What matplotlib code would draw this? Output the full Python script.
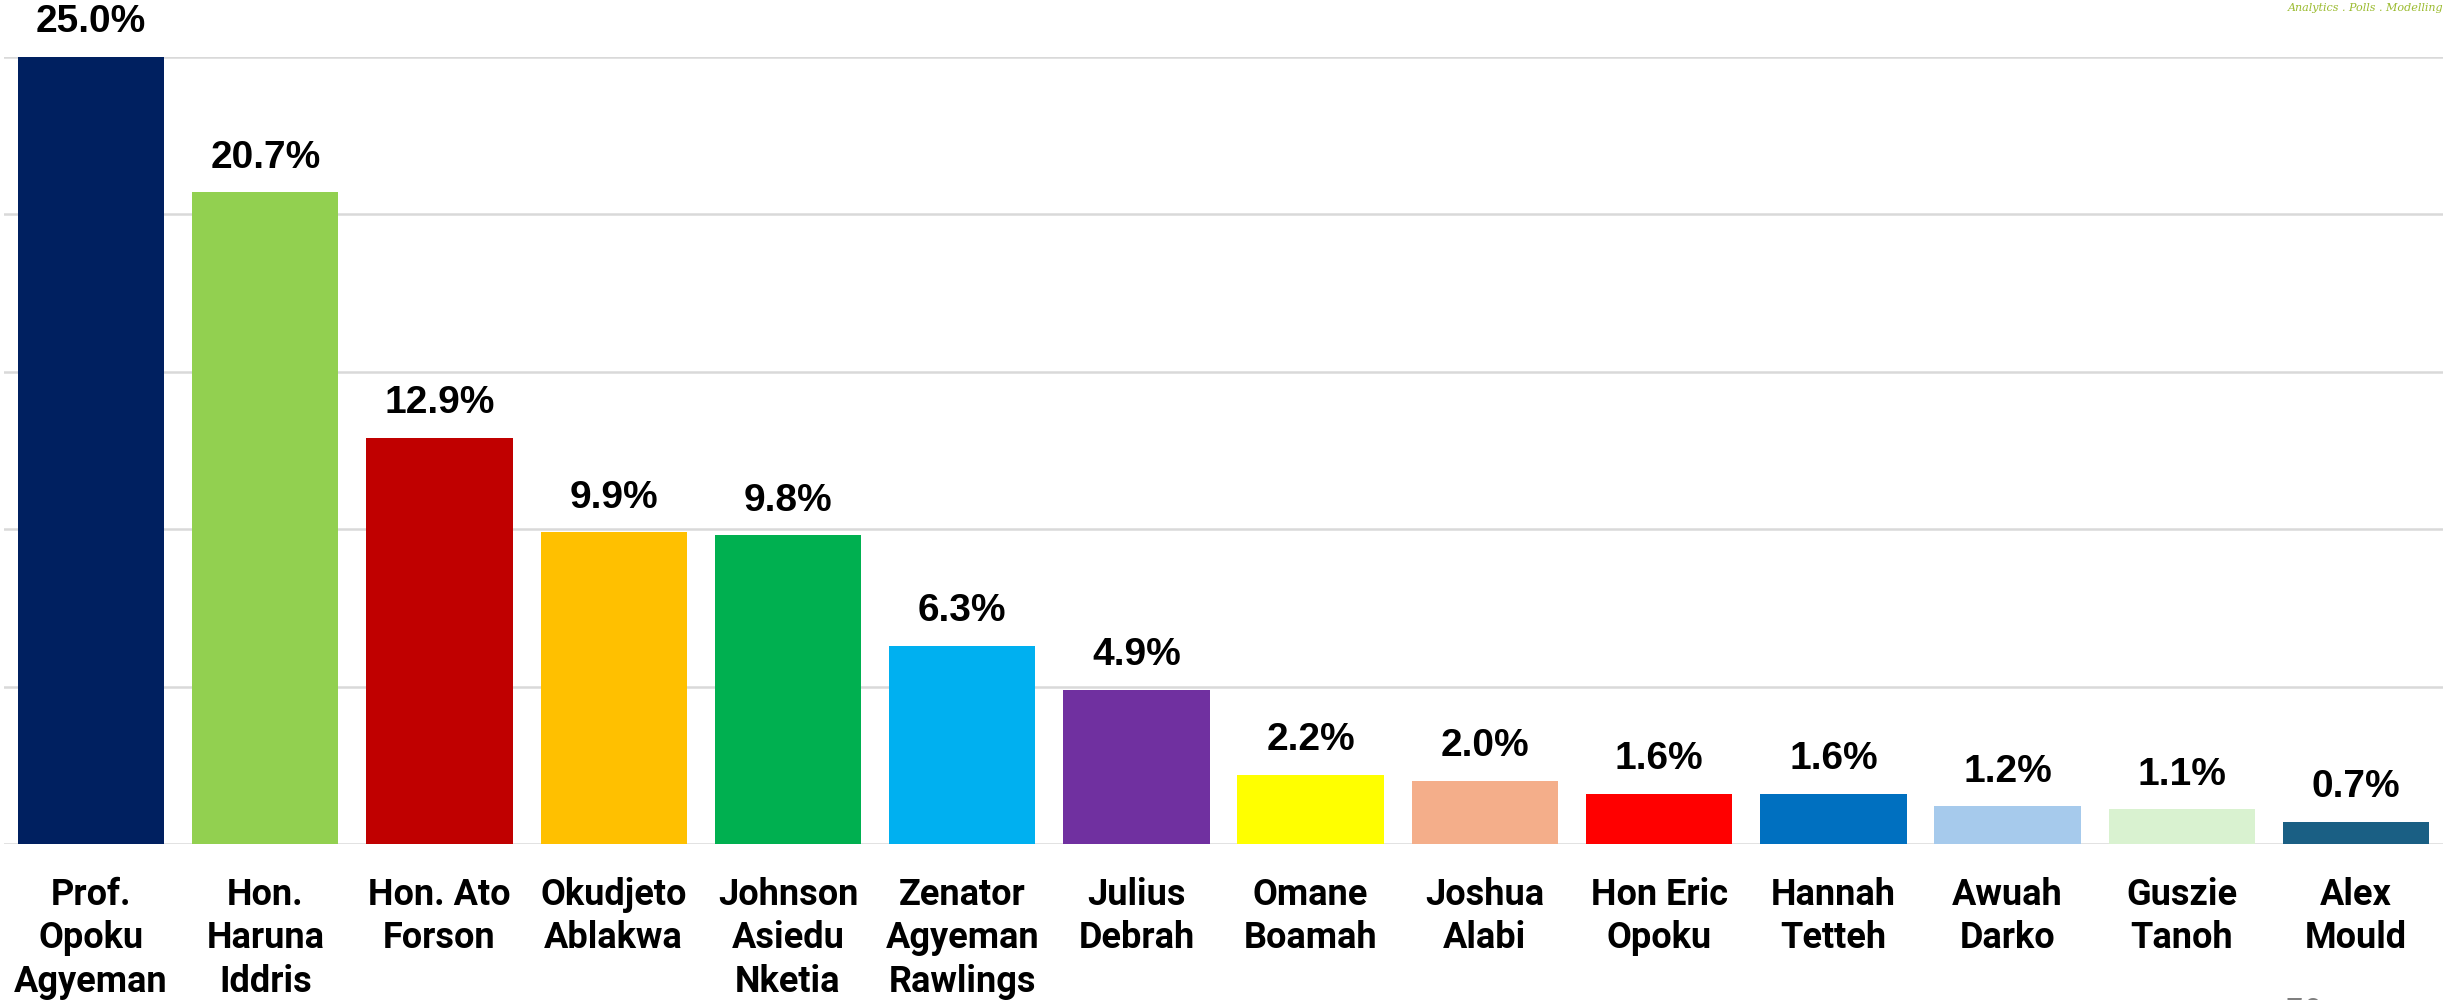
import matplotlib
matplotlib.use("Agg")
import matplotlib.pyplot as plt

# candidate names and their share of support (%)
candidates = [
    "Prof.\nOpoku\nAgyeman", "Hon.\nHaruna\nIddris", "Hon. Ato\nForson",
    "Okudjeto\nAblakwa", "Johnson\nAsiedu\nNketia", "Zenator\nAgyeman\nRawlings",
    "Julius\nDebrah", "Omane\nBoamah", "Joshua\nAlabi", "Hon Eric\nOpoku",
    "Hannah\nTetteh", "Awuah\nDarko", "Guszie\nTanoh", "Alex\nMould",
]
shares = [25.0, 20.7, 12.9, 9.9, 9.8, 6.3, 4.9, 2.2, 2.0, 1.6, 1.6, 1.2, 1.1, 0.7]
bar_colors = [
    "#002060", "#92D050", "#C00000", "#FFC000", "#00B050", "#00B0F0", "#7030A0",
    "#FFFF00", "#F4AE8A", "#FF0000", "#0070C0", "#A6CAEC", "#D9F2D0", "#1A5F84",
]

fig = plt.figure(figsize=(24.51, 10), dpi=100)
ax = fig.add_axes([0.0016, 0.156, 0.9952, 0.787])

x = range(len(candidates))
ax.bar(x, shares, width=0.84, color=bar_colors, zorder=3)

for xi, v in zip(x, shares):
    ax.annotate(f"{v:.1f}%", (xi, v), xytext=(0, 12), textcoords="offset points",
                ha="center", va="bottom", fontsize=28, fontweight="bold",
                family="Liberation Sans", color="black")

ax.set_xlim(-0.5, len(candidates) - 0.5)
ax.set_ylim(0, 25)
ax.set_yticks([0, 5, 10, 15, 20, 25])
ax.yaxis.grid(True, color="#D9D9D9", linewidth=1.8, zorder=0)
ax.tick_params(axis="y", left=False, labelleft=False)
ax.tick_params(axis="x", bottom=False, pad=20)
ax.set_xticks(list(x))
ax.set_xticklabels(candidates, fontsize=26, fontweight="bold", family="Roboto",
                   linespacing=1.27, va="top")
for side in ["left", "right", "top", "bottom"]:
    ax.spines[side].set_visible(False)

# brand tagline and page number
fig.text(0.997, 0.997, "Analytics . Polls . Modelling", ha="right", va="top",
         fontsize=8, style="italic", color="#9BBB2F", family="DejaVu Serif")
fig.text(0.94, 0.003, "70", ha="center", va="top", fontsize=22, color="#7F7F7F")

fig.savefig("out.png", dpi=100, facecolor="white")
